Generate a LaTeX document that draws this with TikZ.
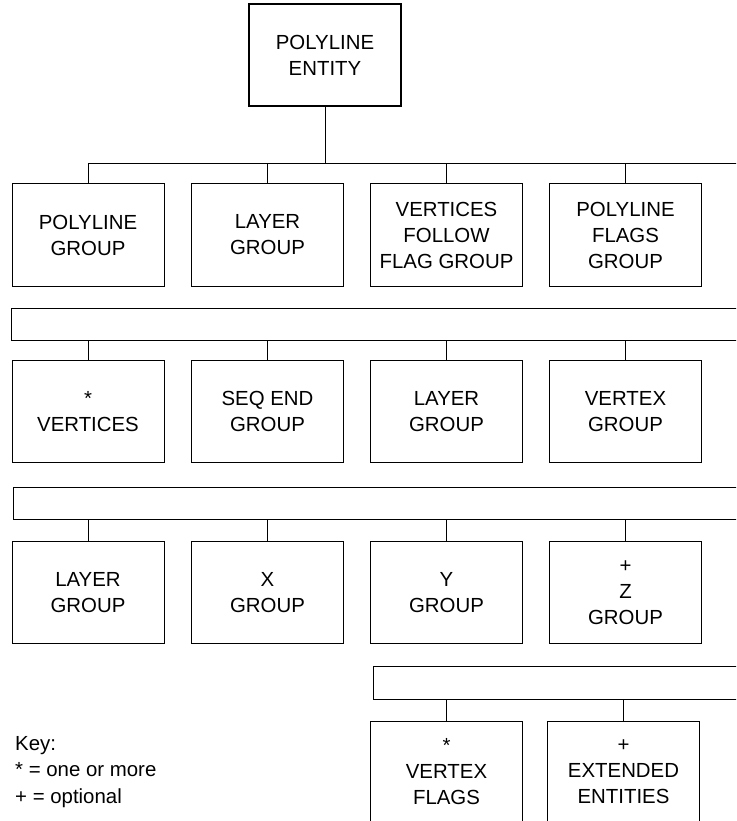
\documentclass[tikz,border=0pt]{standalone}
\usepackage{fontspec}
\setmainfont{Liberation Sans}
\begin{document}
\begin{tikzpicture}[x=1pt,y=-1pt,
  box/.style={draw, line width=1pt, minimum width=152pt, minimum height=102pt, inner sep=0pt, align=center, font=\fontsize{20.4}{26}\selectfont},
  topbox/.style={box, line width=2pt},
  bar/.style={draw, line width=1pt, anchor=north west, minimum height=32pt, minimum width=800pt, inner sep=0pt},
  wire/.style={line width=1pt},
  keytext/.style={anchor=base west, inner sep=0pt, font=\fontsize{20.4}{26.5}\selectfont}]
\useasboundingbox (0,0) rectangle (736,821);
\clip (0,0) rectangle (736,821);
% top
\node[topbox] (top) at (325,55) {POLYLINE\\ENTITY};
% row 1
\node[box] (r1a) at (88,235) {POLYLINE\\GROUP};
\node[box] (r1b) at (267.5,235) {LAYER\\GROUP};
\node[box] (r1c) at (446.5,235) {VERTICES\\FOLLOW\\FLAG GROUP};
\node[box] (r1d) at (625.5,235) {POLYLINE\\FLAGS\\GROUP};
% bar 1
\node[bar] (bar1) at (11,308) {};
% row 2
\node[box] (r2a) at (88,411.5) {*\\VERTICES};
\node[box] (r2b) at (267.5,411.5) {SEQ END\\GROUP};
\node[box] (r2c) at (446.5,411.5) {LAYER\\GROUP};
\node[box] (r2d) at (625.5,411.5) {VERTEX\\GROUP};
% bar 2
\node[bar] (bar2) at (13,487) {};
% row 3
\node[box] (r3a) at (88,592.5) {LAYER\\GROUP};
\node[box] (r3b) at (267.5,592.5) {X\\GROUP};
\node[box] (r3c) at (446.5,592.5) {Y\\GROUP};
\node[box] (r3d) at (625.5,592.5) {+\\Z\\GROUP};
% bar 3
\node[bar, minimum height=33pt] (bar3) at (373,666) {};
% row 4
\node[box] (r4a) at (446.5,772) {*\\VERTEX\\FLAGS};
\node[box] (r4b) at (623.5,772) {+\\EXTENDED\\ENTITIES};
% key
\node[keytext] (key1) at (15,750) {Key:};
\node[keytext] (key2) at (15,776.5) {* = one or more};
\node[keytext] (key3) at (15,803) {+ = optional};
% connectors
\coordinate (bus) at (88,164);
\coordinate (busend) at (745,164);
\draw[wire] (bus) -- (busend);
\draw[wire] (top.south) -- (top.south |- bus);
\foreach \n in {r1a,r1b,r1c,r1d} \draw[wire] (\n.north) -- (\n.north |- bus);
\foreach \n in {r2a,r2b,r2c,r2d} \draw[wire] (bar1.south -| \n.north) -- (\n.north);
\foreach \n in {r3a,r3b,r3c,r3d} \draw[wire] (bar2.south -| \n.north) -- (\n.north);
\foreach \n in {r4a,r4b} \draw[wire] (bar3.south -| \n.north) -- (\n.north);
\end{tikzpicture}
\end{document}
